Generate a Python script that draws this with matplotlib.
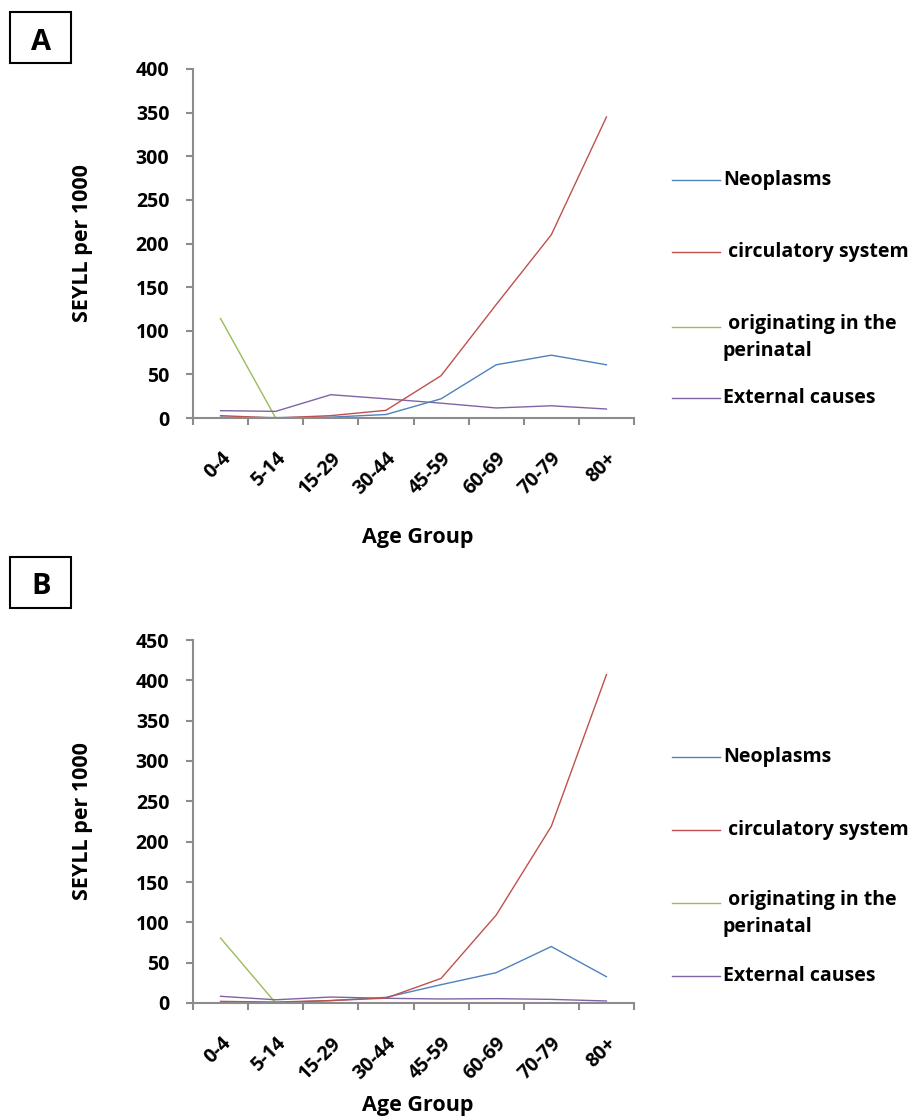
import matplotlib.pyplot as plt
from matplotlib.lines import Line2D
from matplotlib.patches import Rectangle
import matplotlib.transforms as mtransforms

plt.rcParams['font.family'] = ['Open Sans', 'DejaVu Sans']

age_groups = ['0-4', '5-14', '15-29', '30-44', '45-59', '60-69', '70-79', '80+']
series_names = ['Neoplasms', ' circulatory system', ' originating in the\nperinatal', 'External causes']
colors = ['#4F81BD', '#C0504D', '#9BBB59', '#8064A2']

# panel A
a_neoplasms = [1, 0.5, 1, 4, 22, 61, 72, 61]
a_circulatory = [2.7, 0, 2.7, 8.8, 48.5, 130, 210, 345]
a_perinatal = [114, 0, 0, 0, 0, 0, 0, 0]
a_external = [8.4, 7.6, 26.7, 22, 17, 11.5, 14, 10.3]

# panel B
b_neoplasms = [1, 0.5, 3, 7, 22.7, 37.6, 70, 32.6]
b_circulatory = [2, 1.2, 3, 6, 30.5, 109, 219, 407]
b_perinatal = [80.5, 0, 0, 0, 0, 0, 0, 0]
b_external = [8.3, 4, 7.4, 5.8, 5, 5.4, 4.5, 2.5]

fig = plt.figure(figsize=(9.15, 11.16), dpi=100)
W, H = 915, 1116


def panel(rect, series, ymax, step, letter, box_y, xlab_y, leg_y):
    ax = fig.add_axes(rect)
    x = range(len(age_groups))
    # draw order: perinatal first, then others
    order = [2, 3, 0, 1]
    for i in order:
        ax.plot(x, series[i], color=colors[i], lw=1.0)
    ax.set_xlim(-0.5, len(age_groups) - 0.5)
    ax.set_ylim(0, ymax)
    ax.set_yticks(range(0, ymax + 1, step))
    ax.set_xticks(list(x))
    ax.set_xticklabels(age_groups, rotation=45, ha='right', rotation_mode='anchor',
                       fontsize=14, fontweight='bold')
    shift = mtransforms.ScaledTranslation(2 / 100, 0, fig.dpi_scale_trans)
    for lab in ax.get_xticklabels():
        lab.set_transform(lab.get_transform() + shift)
    ax.set_xticks([i - 0.5 for i in range(len(age_groups) + 1)], minor=True)
    ax.tick_params(axis='x', which='major', length=0, pad=22)
    ax.tick_params(axis='x', which='minor', length=5, width=1.5, color='#8C8C8C')
    ax.tick_params(axis='y', length=5, width=1.5, color='#8C8C8C', labelsize=14, pad=12)
    for lab in ax.get_yticklabels():
        lab.set_fontweight('bold')
    for s in ['top', 'right']:
        ax.spines[s].set_visible(False)
    for s in ['left', 'bottom']:
        ax.spines[s].set_color('#8C8C8C')
        ax.spines[s].set_linewidth(1.5)
    ax.set_ylabel('SEYLL per 1000', fontsize=15.5, fontweight='bold')
    ax.yaxis.set_label_coords(93 / W, 0.5,
                              transform=mtransforms.blended_transform_factory(fig.transFigure, ax.transAxes))
    fig.text(418 / W, 1 - xlab_y / H, 'Age Group', fontsize=15.5, fontweight='bold',
             ha='center', va='center')
    # panel letter box
    fig.add_artist(Rectangle((10 / W, 1 - (box_y + 51) / H), 61 / W, 51 / H,
                             transform=fig.transFigure, fill=False, lw=1.5, color='black'))
    fig.text(41 / W, 1 - (box_y + 30) / H, letter, fontsize=21, fontweight='bold',
             ha='center', va='center')
    # legend
    for i, yy in enumerate(leg_y):
        fig.add_artist(Line2D([672 / W, 720 / W], [1 - yy / H, 1 - yy / H],
                              transform=fig.transFigure, color=colors[i], lw=1.0))
        va = 'center'
        ty = yy
        if '\n' in series_names[i]:
            ty = yy - 13
            va = 'top'
        fig.text(723 / W, 1 - ty / H, series_names[i], fontsize=14, fontweight='bold',
                 ha='left', va=va, linespacing=1.45)
    return ax


panel([193 / W, 1 - 418 / H, 441 / W, 349 / H],
      [a_neoplasms, a_circulatory, a_perinatal, a_external], 400, 50,
      'A', 12, 537, [180, 252, 327, 398])
panel([193 / W, 1 - 1003 / H, 441 / W, 363 / H],
      [b_neoplasms, b_circulatory, b_perinatal, b_external], 450, 50,
      'B', 557, 1105, [757, 830, 903, 976])

plt.savefig('out.png', dpi=100)
